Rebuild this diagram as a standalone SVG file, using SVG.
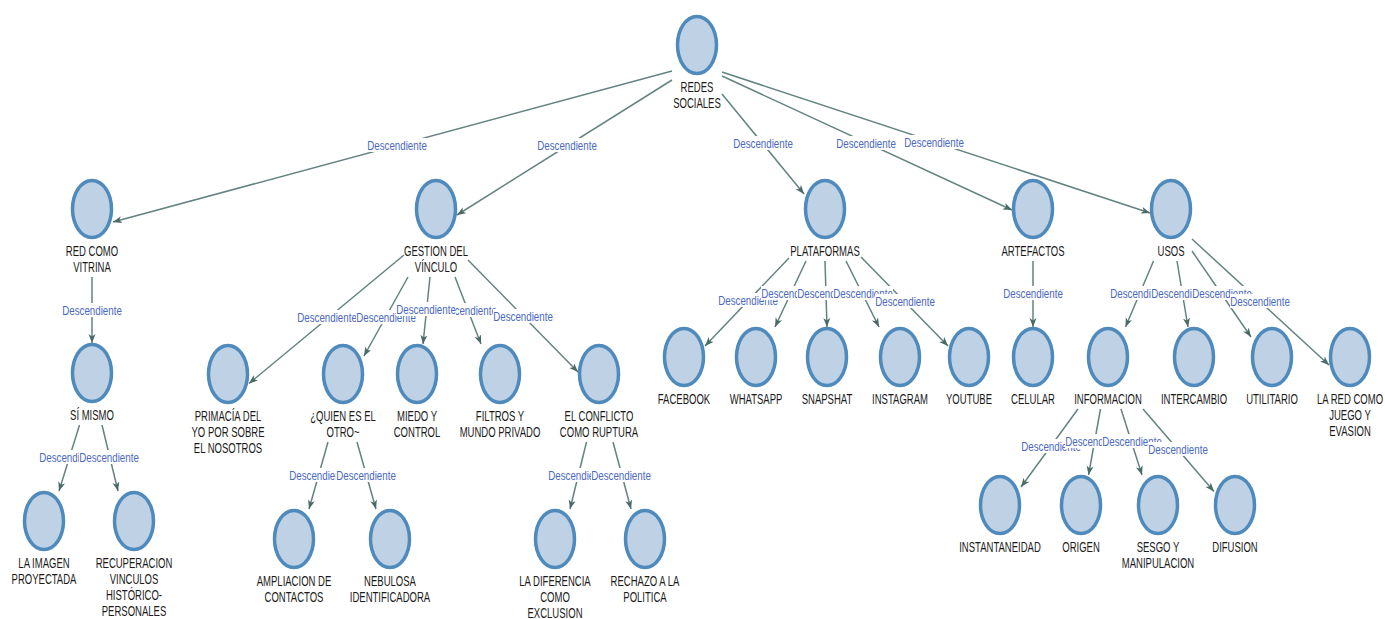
<svg xmlns="http://www.w3.org/2000/svg" width="1385" height="619" viewBox="0 0 1385 619">
<defs>
<style>
.node ellipse{fill:#bfd1e4;stroke:#4f8abd;stroke-width:3.5}
.node text{font-family:"Liberation Sans",Arial,sans-serif;font-size:14px;fill:#1a1a1a;text-anchor:middle;transform:scale(0.68,1)}
.edge{stroke:#628380;stroke-width:1.5;fill:none;marker-end:url(#arr)}
.lbl rect{fill:#ffffff}
.lbl text{font-family:"Liberation Sans",Arial,sans-serif;font-size:13px;fill:#4a68c4;text-anchor:middle;transform:scale(0.75,1)}
</style>
<marker id="arr" markerUnits="userSpaceOnUse" markerWidth="10" markerHeight="8" refX="9" refY="3.5" orient="auto"><path d="M0,0 L9,3.5 L0,7 L2.5,3.5 Z" fill="#4a6a66"/></marker>
</defs>
<rect width="1385" height="619" fill="#ffffff"/>
<g id="connectors">
<line class="edge" x1="672" y1="71" x2="113" y2="222"/>
<line class="edge" x1="672" y1="80" x2="457" y2="215"/>
<line class="edge" x1="722" y1="94" x2="804" y2="194"/>
<line class="edge" x1="722" y1="76" x2="1012" y2="210"/>
<line class="edge" x1="722" y1="72" x2="1150" y2="213"/>
<line class="edge" x1="92" y1="277" x2="92" y2="343"/>
<line class="edge" x1="79.5" y1="425" x2="59" y2="491"/>
<line class="edge" x1="102" y1="425" x2="118" y2="491"/>
<line class="edge" x1="404" y1="255" x2="249" y2="383.5"/>
<line class="edge" x1="408" y1="277" x2="364" y2="356"/>
<line class="edge" x1="430" y1="277" x2="423" y2="344"/>
<line class="edge" x1="455" y1="277" x2="481" y2="344"/>
<line class="edge" x1="468" y1="260" x2="578" y2="372"/>
<line class="edge" x1="328" y1="442" x2="309" y2="509"/>
<line class="edge" x1="357" y1="442" x2="376" y2="509"/>
<line class="edge" x1="586.5" y1="442" x2="570" y2="509"/>
<line class="edge" x1="613" y1="442" x2="631" y2="509"/>
<line class="edge" x1="789" y1="258" x2="705" y2="346"/>
<line class="edge" x1="806" y1="261" x2="775" y2="327"/>
<line class="edge" x1="825" y1="261" x2="827" y2="327"/>
<line class="edge" x1="846" y1="261" x2="879" y2="327"/>
<line class="edge" x1="861" y1="257" x2="948" y2="346"/>
<line class="edge" x1="1033" y1="261" x2="1033" y2="327"/>
<line class="edge" x1="1153.5" y1="261" x2="1125.5" y2="327"/>
<line class="edge" x1="1177" y1="261" x2="1188" y2="327"/>
<line class="edge" x1="1192" y1="251" x2="1251" y2="337"/>
<line class="edge" x1="1192" y1="239" x2="1329" y2="365"/>
<line class="edge" x1="1078" y1="409" x2="1021" y2="487"/>
<line class="edge" x1="1100.5" y1="409" x2="1088.5" y2="475"/>
<line class="edge" x1="1121" y1="409" x2="1142" y2="475"/>
<line class="edge" x1="1143" y1="409" x2="1214" y2="491.5"/>
<g id="edge-labels">
<g class="lbl" transform="translate(397,145)"><rect x="-30" y="-7" width="60" height="14"/><text y="4.5">Descendiente</text></g>
<g class="lbl" transform="translate(567,145)"><rect x="-30" y="-7" width="60" height="14"/><text y="4.5">Descendiente</text></g>
<g class="lbl" transform="translate(763,143)"><rect x="-30" y="-7" width="60" height="14"/><text y="4.5">Descendiente</text></g>
<g class="lbl" transform="translate(866,143)"><rect x="-30" y="-7" width="60" height="14"/><text y="4.5">Descendiente</text></g>
<g class="lbl" transform="translate(934,142)"><rect x="-30" y="-7" width="60" height="14"/><text y="4.5">Descendiente</text></g>
<g class="lbl" transform="translate(92,310)"><rect x="-30" y="-7" width="60" height="14"/><text y="4.5">Descendiente</text></g>
<g class="lbl" transform="translate(69,457)"><rect x="-30" y="-7" width="60" height="14"/><text y="4.5">Descendiente</text></g>
<g class="lbl" transform="translate(109,457)"><rect x="-30" y="-7" width="60" height="14"/><text y="4.5">Descendiente</text></g>
<g class="lbl" transform="translate(327,317)"><rect x="-30" y="-7" width="60" height="14"/><text y="4.5">Descendiente</text></g>
<g class="lbl" transform="translate(386,317)"><rect x="-30" y="-7" width="60" height="14"/><text y="4.5">Descendiente</text></g>
<g class="lbl" transform="translate(467,310)"><rect x="-30" y="-7" width="60" height="14"/><text y="4.5">Descendiente</text></g>
<g class="lbl" transform="translate(426,309)"><rect x="-30" y="-7" width="60" height="14"/><text y="4.5">Descendiente</text></g>
<g class="lbl" transform="translate(523,316)"><rect x="-30" y="-7" width="60" height="14"/><text y="4.5">Descendiente</text></g>
<g class="lbl" transform="translate(319,475)"><rect x="-30" y="-7" width="60" height="14"/><text y="4.5">Descendiente</text></g>
<g class="lbl" transform="translate(366,475)"><rect x="-30" y="-7" width="60" height="14"/><text y="4.5">Descendiente</text></g>
<g class="lbl" transform="translate(578,475)"><rect x="-30" y="-7" width="60" height="14"/><text y="4.5">Descendiente</text></g>
<g class="lbl" transform="translate(621,475)"><rect x="-30" y="-7" width="60" height="14"/><text y="4.5">Descendiente</text></g>
<g class="lbl" transform="translate(748,300)"><rect x="-30" y="-7" width="60" height="14"/><text y="4.5">Descendiente</text></g>
<g class="lbl" transform="translate(791,293)"><rect x="-30" y="-7" width="60" height="14"/><text y="4.5">Descendiente</text></g>
<g class="lbl" transform="translate(827,293)"><rect x="-30" y="-7" width="60" height="14"/><text y="4.5">Descendiente</text></g>
<g class="lbl" transform="translate(863,293)"><rect x="-30" y="-7" width="60" height="14"/><text y="4.5">Descendiente</text></g>
<g class="lbl" transform="translate(905,301)"><rect x="-30" y="-7" width="60" height="14"/><text y="4.5">Descendiente</text></g>
<g class="lbl" transform="translate(1033,293)"><rect x="-30" y="-7" width="60" height="14"/><text y="4.5">Descendiente</text></g>
<g class="lbl" transform="translate(1140,293)"><rect x="-30" y="-7" width="60" height="14"/><text y="4.5">Descendiente</text></g>
<g class="lbl" transform="translate(1181,293)"><rect x="-30" y="-7" width="60" height="14"/><text y="4.5">Descendiente</text></g>
<g class="lbl" transform="translate(1222,293)"><rect x="-30" y="-7" width="60" height="14"/><text y="4.5">Descendiente</text></g>
<g class="lbl" transform="translate(1260,301)"><rect x="-30" y="-7" width="60" height="14"/><text y="4.5">Descendiente</text></g>
<g class="lbl" transform="translate(1051,446)"><rect x="-30" y="-7" width="60" height="14"/><text y="4.5">Descendiente</text></g>
<g class="lbl" transform="translate(1095,441)"><rect x="-30" y="-7" width="60" height="14"/><text y="4.5">Descendiente</text></g>
<g class="lbl" transform="translate(1132,441)"><rect x="-30" y="-7" width="60" height="14"/><text y="4.5">Descendiente</text></g>
<g class="lbl" transform="translate(1178,449)"><rect x="-30" y="-7" width="60" height="14"/><text y="4.5">Descendiente</text></g>
</g>
</g>
<g id="nodes">
<g id="n-redes" class="node" transform="translate(697,45)"><ellipse rx="19.5" ry="28.5"/><text y="47"><tspan x="0">REDES</tspan><tspan x="0" dy="16">SOCIALES</tspan></text></g>
<g id="n-vitrina" class="node" transform="translate(92,209)"><ellipse rx="19.5" ry="28.5"/><text y="47"><tspan x="0">RED COMO</tspan><tspan x="0" dy="16">VITRINA</tspan></text></g>
<g id="n-gestion" class="node" transform="translate(436,209)"><ellipse rx="19.5" ry="28.5"/><text y="47"><tspan x="0">GESTION DEL</tspan><tspan x="0" dy="16">VÍNCULO</tspan></text></g>
<g id="n-plataformas" class="node" transform="translate(825,209)"><ellipse rx="19.5" ry="28.5"/><text y="47"><tspan x="0">PLATAFORMAS</tspan></text></g>
<g id="n-artefactos" class="node" transform="translate(1033,209)"><ellipse rx="19.5" ry="28.5"/><text y="47"><tspan x="0">ARTEFACTOS</tspan></text></g>
<g id="n-usos" class="node" transform="translate(1171,209)"><ellipse rx="19.5" ry="28.5"/><text y="47"><tspan x="0">USOS</tspan></text></g>
<g id="n-simismo" class="node" transform="translate(92,373)"><ellipse rx="19.5" ry="28.5"/><text y="47"><tspan x="0">SÍ MISMO</tspan></text></g>
<g id="n-primacia" class="node" transform="translate(228,374)"><ellipse rx="19.5" ry="28.5"/><text y="47"><tspan x="0">PRIMACÍA DEL</tspan><tspan x="0" dy="16">YO POR SOBRE</tspan><tspan x="0" dy="16">EL NOSOTROS</tspan></text></g>
<g id="n-quien" class="node" transform="translate(343,374)"><ellipse rx="19.5" ry="28.5"/><text y="47"><tspan x="0">¿QUIEN ES EL</tspan><tspan x="0" dy="16">OTRO~</tspan></text></g>
<g id="n-miedo" class="node" transform="translate(417,374)"><ellipse rx="19.5" ry="28.5"/><text y="47"><tspan x="0">MIEDO Y</tspan><tspan x="0" dy="16">CONTROL</tspan></text></g>
<g id="n-filtros" class="node" transform="translate(500,374)"><ellipse rx="19.5" ry="28.5"/><text y="47"><tspan x="0">FILTROS Y</tspan><tspan x="0" dy="16">MUNDO PRIVADO</tspan></text></g>
<g id="n-conflicto" class="node" transform="translate(599,374)"><ellipse rx="19.5" ry="28.5"/><text y="47"><tspan x="0">EL CONFLICTO</tspan><tspan x="0" dy="16">COMO RUPTURA</tspan></text></g>
<g id="n-facebook" class="node" transform="translate(684,357)"><ellipse rx="19.5" ry="28.5"/><text y="47"><tspan x="0">FACEBOOK</tspan></text></g>
<g id="n-whatsapp" class="node" transform="translate(756,357)"><ellipse rx="19.5" ry="28.5"/><text y="47"><tspan x="0">WHATSAPP</tspan></text></g>
<g id="n-snapshat" class="node" transform="translate(827,357)"><ellipse rx="19.5" ry="28.5"/><text y="47"><tspan x="0">SNAPSHAT</tspan></text></g>
<g id="n-instagram" class="node" transform="translate(900,357)"><ellipse rx="19.5" ry="28.5"/><text y="47"><tspan x="0">INSTAGRAM</tspan></text></g>
<g id="n-youtube" class="node" transform="translate(969,357)"><ellipse rx="19.5" ry="28.5"/><text y="47"><tspan x="0">YOUTUBE</tspan></text></g>
<g id="n-celular" class="node" transform="translate(1033,357)"><ellipse rx="19.5" ry="28.5"/><text y="47"><tspan x="0">CELULAR</tspan></text></g>
<g id="n-informacion" class="node" transform="translate(1108,357)"><ellipse rx="19.5" ry="28.5"/><text y="47"><tspan x="0">INFORMACION</tspan></text></g>
<g id="n-intercambio" class="node" transform="translate(1194,357)"><ellipse rx="19.5" ry="28.5"/><text y="47"><tspan x="0">INTERCAMBIO</tspan></text></g>
<g id="n-utilitario" class="node" transform="translate(1272,357)"><ellipse rx="19.5" ry="28.5"/><text y="47"><tspan x="0">UTILITARIO</tspan></text></g>
<g id="n-juego" class="node" transform="translate(1350,357)"><ellipse rx="19.5" ry="28.5"/><text y="47"><tspan x="0">LA RED COMO</tspan><tspan x="0" dy="16">JUEGO Y</tspan><tspan x="0" dy="16">EVASION</tspan></text></g>
<g id="n-imagen" class="node" transform="translate(44,521)"><ellipse rx="19.5" ry="28.5"/><text y="47"><tspan x="0">LA IMAGEN</tspan><tspan x="0" dy="16">PROYECTADA</tspan></text></g>
<g id="n-recuperacion" class="node" transform="translate(134,521)"><ellipse rx="19.5" ry="28.5"/><text y="47"><tspan x="0">RECUPERACION</tspan><tspan x="0" dy="16">VINCULOS</tspan><tspan x="0" dy="16">HISTÓRICO-</tspan><tspan x="0" dy="16">PERSONALES</tspan></text></g>
<g id="n-ampliacion" class="node" transform="translate(294,539)"><ellipse rx="19.5" ry="28.5"/><text y="47"><tspan x="0">AMPLIACION DE</tspan><tspan x="0" dy="16">CONTACTOS</tspan></text></g>
<g id="n-nebulosa" class="node" transform="translate(390,539)"><ellipse rx="19.5" ry="28.5"/><text y="47"><tspan x="0">NEBULOSA</tspan><tspan x="0" dy="16">IDENTIFICADORA</tspan></text></g>
<g id="n-diferencia" class="node" transform="translate(555,539)"><ellipse rx="19.5" ry="28.5"/><text y="47"><tspan x="0">LA DIFERENCIA</tspan><tspan x="0" dy="16">COMO</tspan><tspan x="0" dy="16">EXCLUSION</tspan></text></g>
<g id="n-rechazo" class="node" transform="translate(645,539)"><ellipse rx="19.5" ry="28.5"/><text y="47"><tspan x="0">RECHAZO A LA</tspan><tspan x="0" dy="16">POLITICA</tspan></text></g>
<g id="n-instantaneidad" class="node" transform="translate(1000,505)"><ellipse rx="19.5" ry="28.5"/><text y="47"><tspan x="0">INSTANTANEIDAD</tspan></text></g>
<g id="n-origen" class="node" transform="translate(1081,505)"><ellipse rx="19.5" ry="28.5"/><text y="47"><tspan x="0">ORIGEN</tspan></text></g>
<g id="n-sesgo" class="node" transform="translate(1158,505)"><ellipse rx="19.5" ry="28.5"/><text y="47"><tspan x="0">SESGO Y</tspan><tspan x="0" dy="16">MANIPULACION</tspan></text></g>
<g id="n-difusion" class="node" transform="translate(1235,505)"><ellipse rx="19.5" ry="28.5"/><text y="47"><tspan x="0">DIFUSION</tspan></text></g>
</g>
</svg>
